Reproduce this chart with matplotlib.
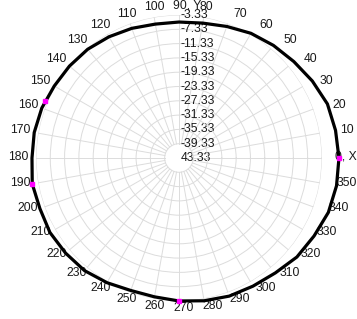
import numpy as np
import matplotlib
matplotlib.use("Agg")
import matplotlib.pyplot as plt
from matplotlib.transforms import ScaledTranslation

plt.rcParams['font.family'] = ['Liberation Sans', 'DejaVu Sans']

# pattern data (degrees, dB)
angles_deg = [0, 10, 20, 30, 40, 50, 60, 70, 80, 90, 100, 110, 120, 130, 140, 150,
              160, 170, 180, 190, 200, 210, 220, 230, 240, 250, 260, 270, 280, 290,
              300, 310, 320, 330, 340, 350, 360]
gain_db = [1.43, 1.15, 0.87, -0.25, -1.37, -2.21, -3.05, -4.17, -5.01, -5.29, -5.29,
           -4.73, -4.17, -3.61, -3.33, -3.05, -2.49, -2.21, -2.21, -1.65, -1.93, -1.65,
           -1.93, -2.21, -3.05, -3.89, -3.89, -3.33, -2.77, -2.21, -1.93, -1.37, -0.25,
           0.31, 1.15, 1.43, 1.43]

marker_deg = [0, 157, 190, 270]
marker_db = [1.43, -2.6, -1.65, -3.33]

r_ticks = [-43.33, -39.33, -35.33, -31.33, -27.33, -23.33, -19.33, -15.33, -11.33, -7.33, -3.33]
r_labels = ["43.33", "-39.33", "-35.33", "-31.33", "-27.33", "-23.33", "-19.33", "-15.33",
            "-11.33", "-7.33", "-3.33"]
theta_ticks = list(range(0, 360, 10))
theta_labels = [("0, X" if a == 0 else "90, Y" if a == 90 else str(a)) for a in theta_ticks]

fig = plt.figure(figsize=(3.57, 3.19), dpi=100)
ax = fig.add_axes([0.1008, 0.0564, 0.801, 0.8966], projection='polar')

grid_c = '#dcdcdc'
txt_c = '#1a1a1a'
fs = 8.7
ax.set_ylim(r_ticks[0], r_ticks[-1])
ax.set_yticks(r_ticks)
ax.set_yticklabels(r_labels)
ax.set_xticks(np.deg2rad(theta_ticks))
ax.set_xticklabels([])
ax.xaxis.grid(False)
ax.yaxis.grid(True, color=grid_c, lw=0.7)
for a in theta_ticks:
    ax.plot([np.deg2rad(a)] * 2, [r_ticks[1], r_ticks[-1]], color=grid_c, lw=0.7, zorder=0.5)
ax.spines['polar'].set_visible(False)
ax.set_rlabel_position(90)
ax.tick_params(axis='x', length=0)
ax.tick_params(axis='y', labelsize=fs, colors=txt_c)
shift = ScaledTranslation(0.02, 0, fig.dpi_scale_trans)
for lbl in ax.get_yticklabels():
    lbl.set_va('center')
    lbl.set_ha('left')
    lbl.set_transform(lbl.get_transform() + shift)

# angular labels placed around the centre
for a, lab in zip(theta_ticks, theta_labels):
    rad = np.deg2rad(a)
    dx = (4.5 + 165.5 * np.cos(rad)) / 100.0
    dy = (1.5 + 151.5 * np.sin(rad)) / 100.0
    if a == 0:
        dx -= 0.03
    if a == 80:
        dx -= 0.06
    if a == 90:
        dx += 0.04
    ax.text(0, r_ticks[0], lab, fontsize=fs, color=txt_c, ha='center', va='center',
            transform=ax.transData + ScaledTranslation(dx, dy, fig.dpi_scale_trans),
            clip_on=False)

th = np.deg2rad(angles_deg)
ax.plot(th, gain_db, color='black', lw=2.3, clip_on=False, zorder=3)
ax.plot(np.deg2rad(marker_deg), marker_db, ls='none', marker='s', ms=3.5,
        mfc='#ff00ff', mec='#ff00ff', clip_on=False, zorder=4)

fig.savefig('out.png', dpi=100)
